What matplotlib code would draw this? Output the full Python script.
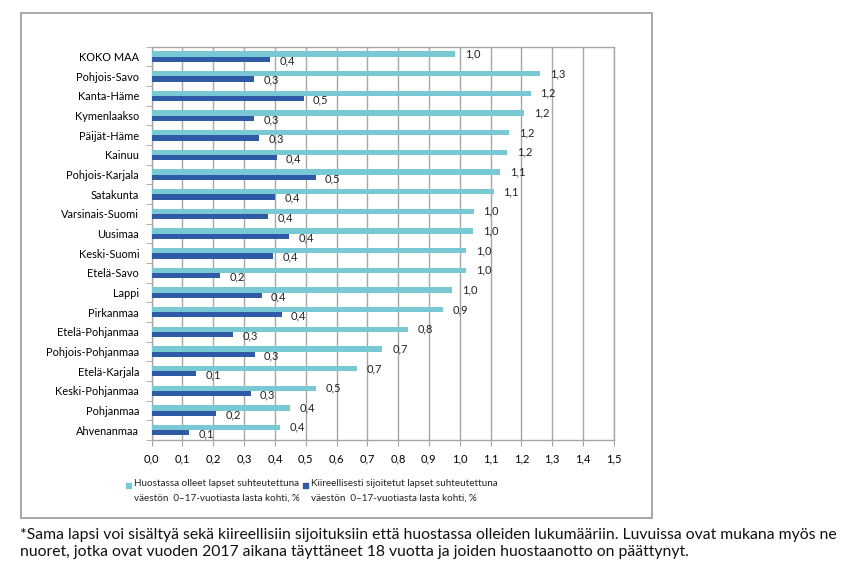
import matplotlib.pyplot as plt
from matplotlib.patches import Rectangle
import numpy as np

plt.rcParams['font.family'] = ['Lato', 'DejaVu Sans']

# alueet ylhäältä alas
alueet = ['KOKO MAA', 'Pohjois-Savo', 'Kanta-Häme', 'Kymenlaakso', 'Päijät-Häme',
          'Kainuu', 'Pohjois-Karjala', 'Satakunta', 'Varsinais-Suomi', 'Uusimaa',
          'Keski-Suomi', 'Etelä-Savo', 'Lappi', 'Pirkanmaa', 'Etelä-Pohjanmaa',
          'Pohjois-Pohjanmaa', 'Etelä-Karjala', 'Keski-Pohjanmaa', 'Pohjanmaa',
          'Ahvenanmaa']
huostassa = [0.985, 1.26, 1.23, 1.21, 1.16, 1.155, 1.13, 1.11, 1.045, 1.043,
             1.02, 1.02, 0.975, 0.946, 0.832, 0.749, 0.667, 0.532, 0.448, 0.417]
kiireelliset = [0.384, 0.333, 0.493, 0.332, 0.349, 0.406, 0.533, 0.40, 0.379, 0.447,
                0.395, 0.222, 0.357, 0.422, 0.264, 0.334, 0.144, 0.321, 0.209, 0.122]
x_ticks = np.arange(0, 1.51, 0.1)

vaalea = '#78C9D3'
tumma = '#2E5AA6'
harmaa = '#A6A6A6'

fig = plt.figure(figsize=(8.56, 5.76), dpi=100)
# ulkokehys
fig.patches.append(Rectangle((0.0242, 0.101), 0.737, 0.877, transform=fig.transFigure,
                             fill=False, edgecolor='#A0A0A0', linewidth=1.3))

ax = fig.add_axes([0.1772, 0.2361, 0.5398, 0.6828])
y = np.arange(len(alueet))
h = 0.27
ax.barh(y - 0.135, huostassa, height=h, color=vaalea, zorder=3)
ax.barh(y + 0.135, kiireelliset, height=h, color=tumma, zorder=3)

fmt = lambda v: f'{v:.1f}'.replace('.', ',')
for i in range(len(alueet)):
    ax.text(huostassa[i] + 0.032, y[i] - 0.14, fmt(huostassa[i]), va='center',
            ha='left', fontsize=8, color='#222222')
    ax.text(kiireelliset[i] + 0.03, y[i] + 0.2, fmt(kiireelliset[i]), va='center',
            ha='left', fontsize=8, color='#222222')

ax.set_xlim(0, 1.5)
ax.set_ylim(len(alueet) - 0.5, -0.5)
ax.set_xticks(x_ticks)
ax.set_xticklabels([fmt(v) for v in x_ticks], fontsize=8)
ax.set_yticks(y)
ax.set_yticklabels(alueet, fontsize=7.9)
ax.set_yticks(np.arange(len(alueet) + 1) - 0.5, minor=True)
ax.tick_params(axis='y', which='major', length=0, pad=9)
ax.tick_params(axis='y', which='minor', length=4, color=harmaa, direction='out')
ax.tick_params(axis='x', length=4, color=harmaa, pad=6)
ax.grid(axis='x', color=harmaa, linewidth=1, zorder=0)
for s in ax.spines.values():
    s.set_color(harmaa)
    s.set_linewidth(1)

# selite
selite = ['Huostassa olleet lapset suhteutettuna\nväestön  0\u201317-vuotiasta lasta kohti, %',
          'Kiireellisesti sijoitetut lapset suhteutettuna\nväestön  0\u201317-vuotiasta lasta kohti, %']
for xs, teksti, vari in [(126, selite[0], vaalea), (303, selite[1], tumma)]:
    fig.patches.append(Rectangle((xs / 856, 1 - 488 / 576), 5 / 856, 5 / 576,
                                 transform=fig.transFigure, color=vari))
    fig.text((xs + 8) / 856, 1 - 479 / 576, teksti, fontsize=7.1, va='top',
             ha='left', linespacing=1.85, color='#222222')

fig.text(20 / 856, 1 - 528 / 576,
         '*Sama lapsi voi sisältyä sekä kiireellisiin sijoituksiin että huostassa olleiden '
         'lukumääriin. Luvuissa ovat mukana myös ne\nnuoret, jotka ovat vuoden 2017 aikana '
         'täyttäneet 18 vuotta ja joiden huostaanotto on päättynyt.',
         fontsize=11.35, va='top', ha='left', linespacing=1.25, color='#111111')

fig.savefig('out.png', dpi=100)
